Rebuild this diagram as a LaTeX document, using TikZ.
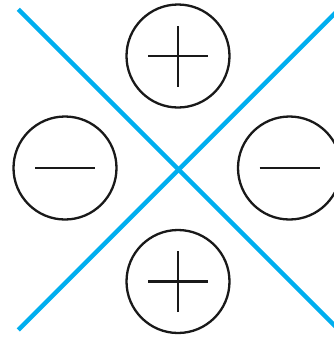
\documentclass[tikz,border=0pt]{standalone}
\definecolor{lineblue}{RGB}{0,174,239}
\begin{document}
\begin{tikzpicture}[x=1pt,y=-1pt,
  ring/.style={circle,draw=black!90,line width=2.3pt,minimum size=103pt,inner sep=0pt},
  signstroke/.style={draw=black!90,line width=2.4pt},
  axis/.style={draw=lineblue,line width=4.5pt}]
\useasboundingbox (0,0) rectangle (334,338);
\clip (0,0) rectangle (334,338);
\fill[white] (0,0) rectangle (334,338);
% blue lines
\coordinate (a1) at (18.3,9.3);
\coordinate (a2) at (350,341);
\coordinate (b1) at (18.3,330);
\coordinate (b2) at (350,-1.7);
\draw[axis] (a1) -- (a2);
\draw[axis] (b1) -- (b2);
% circles
\node[ring] (top) at (178,56) {};
\node[ring] (left) at (65,168) {};
\node[ring] (right) at (289.5,168) {};
\node[ring] (bottom) at (178,281.5) {};
% signs
\draw[signstroke] ([xshift=-30pt]top.center) -- ([xshift=30pt]top.center);
\draw[signstroke] ([yshift=-30.5pt]top.center) -- ([yshift=30.5pt]top.center);
\draw[signstroke] ([xshift=-30pt]bottom.center) -- ([xshift=30pt]bottom.center);
\draw[signstroke] ([yshift=-30.5pt]bottom.center) -- ([yshift=30.5pt]bottom.center);
\draw[signstroke] ([xshift=-30pt]left.center) -- ([xshift=30pt]left.center);
\draw[signstroke] ([xshift=-30pt]right.center) -- ([xshift=30pt]right.center);
\end{tikzpicture}
\end{document}
